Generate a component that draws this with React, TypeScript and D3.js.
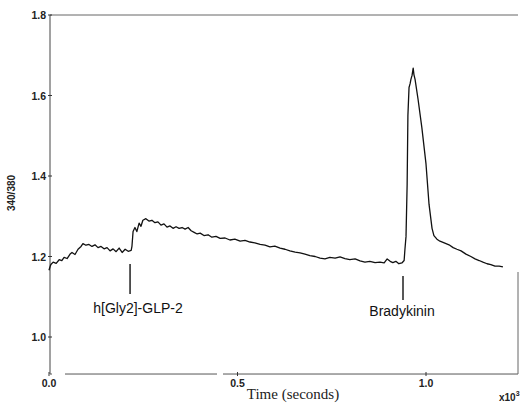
import React from "react";
import * as d3 from "d3";

// Time in units of 10^3 seconds
const times = [
  0.000, 0.003, 0.005, 0.011, 0.019, 0.027, 0.034, 0.040, 0.048, 0.056, 0.061, 0.069, 0.077, 0.085, 0.090, 0.098,
  0.106, 0.114, 0.122, 0.130, 0.138, 0.146, 0.154, 0.162, 0.170, 0.178, 0.186, 0.194, 0.202, 0.210, 0.218, 0.220,
  0.223, 0.228, 0.233, 0.239, 0.244, 0.249, 0.257, 0.265, 0.273, 0.281, 0.289, 0.297, 0.305, 0.313, 0.321, 0.329,
  0.337, 0.345, 0.353, 0.361, 0.369, 0.377, 0.385, 0.393, 0.401, 0.411, 0.422, 0.432, 0.443, 0.454, 0.467, 0.480,
  0.493, 0.507, 0.520, 0.533, 0.546, 0.560, 0.573, 0.586, 0.599, 0.613, 0.626, 0.639, 0.653, 0.666, 0.679, 0.692,
  0.706, 0.719, 0.732, 0.745, 0.759, 0.772, 0.785, 0.798, 0.812, 0.825, 0.838, 0.851, 0.865, 0.878, 0.889, 0.897,
  0.905, 0.912, 0.920, 0.928, 0.936, 0.942, 0.944, 0.947, 0.950, 0.952, 0.955, 0.958, 0.960, 0.963, 0.966, 0.968,
  0.971, 0.979, 0.989, 1.000, 1.008, 1.016, 1.021, 1.029, 1.037, 1.050, 1.061, 1.072, 1.082, 1.093, 1.106, 1.119,
  1.130, 1.141, 1.151, 1.162, 1.172, 1.183, 1.194, 1.204,
];
const ratios = [
  1.166, 1.175, 1.180, 1.186, 1.183, 1.192, 1.190, 1.198, 1.195, 1.206, 1.210, 1.205, 1.218, 1.225, 1.232, 1.228,
  1.230, 1.225, 1.229, 1.222, 1.225, 1.219, 1.222, 1.214, 1.219, 1.212, 1.221, 1.210, 1.218, 1.213, 1.215, 1.225,
  1.262, 1.272, 1.262, 1.283, 1.275, 1.290, 1.294, 1.288, 1.290, 1.284, 1.286, 1.278, 1.281, 1.273, 1.276, 1.270,
  1.274, 1.270, 1.272, 1.268, 1.272, 1.264, 1.260, 1.256, 1.258, 1.252, 1.254, 1.248, 1.250, 1.245, 1.246, 1.241,
  1.243, 1.238, 1.240, 1.236, 1.234, 1.230, 1.228, 1.224, 1.226, 1.221, 1.218, 1.214, 1.211, 1.209, 1.206, 1.202,
  1.200, 1.196, 1.194, 1.198, 1.196, 1.199, 1.195, 1.192, 1.194, 1.189, 1.186, 1.188, 1.185, 1.186, 1.184, 1.194,
  1.188, 1.185, 1.188, 1.182, 1.184, 1.190, 1.216, 1.250, 1.380, 1.550, 1.620, 1.630, 1.640, 1.650, 1.668, 1.652,
  1.640, 1.590, 1.520, 1.430, 1.330, 1.270, 1.252, 1.243, 1.238, 1.233, 1.229, 1.222, 1.218, 1.214, 1.206, 1.200,
  1.194, 1.190, 1.186, 1.182, 1.180, 1.176, 1.176, 1.174,
];

const yTicks = [1.0, 1.2, 1.4, 1.6, 1.8];
const xTicks = [0.0, 0.5, 1.0];

const annotations = [
  { label: "h[Gly2]-GLP-2", t: 0.215 },
  { label: "Bradykinin", t: 0.939 },
];

export default function App() {
  const W = 520;
  const H = 406;
  const x = d3.scaleLinear().domain([0, 1]).range([49, 426]);
  const y = d3.scaleLinear().domain([1.0, 1.8]).range([337, 15]);
  const left = 50;
  const bottom = y(0.908);
  const right = 518;
  const top = 15;

  const pts = times.map((t, i) => [t, ratios[i]] as [number, number]);
  const line = d3
    .line<[number, number]>()
    .x((d) => x(d[0]))
    .y((d) => y(d[1]));

  const tickFont = "'Liberation Sans', Arial, sans-serif";

  return (
    <svg
      width={W}
      height={H}
      style={{ position: "absolute", left: 0, top: 0, background: "#fff" }}
    >
      {/* frame */}
      <line x1={left} x2={right} y1={top} y2={top} stroke="#666" strokeWidth={1} />
      <line x1={left} x2={left} y1={top} y2={bottom} stroke="#444" strokeWidth={1} />
      <line x1={left} x2={52} y1={bottom} y2={bottom} stroke="#555" strokeWidth={1} />
      <line x1={65} x2={217} y1={bottom} y2={bottom} stroke="#555" strokeWidth={1} />
      <line x1={223} x2={right} y1={bottom} y2={bottom} stroke="#555" strokeWidth={1} />
      <line x1={right} x2={right} y1={272} y2={bottom} stroke="#666" strokeWidth={1} />

      {/* y ticks */}
      {yTicks.map((v) => (
        <g key={"y" + v}>
          <line x1={left - 2} x2={left + 2} y1={y(v)} y2={y(v)} stroke="#333" />
          <text
            x={left - 4}
            y={y(v) + 4}
            textAnchor="end"
            fontFamily={tickFont}
            fontWeight="bold"
            fontSize={10.5}
            fill="#222"
          >
            {v.toFixed(1)}
          </text>
        </g>
      ))}

      {/* x ticks */}
      {xTicks.map((v) => (
        <g key={"x" + v}>
          <line x1={x(v)} x2={x(v)} y1={bottom - 2} y2={bottom + 2} stroke="#333" />
          <text
            x={x(v)}
            y={bottom + 13}
            textAnchor="middle"
            fontFamily={tickFont}
            fontWeight="bold"
            fontSize={10.5}
            fill="#222"
          >
            {v.toFixed(1)}
          </text>
        </g>
      ))}

      {/* axis titles */}
      <text
        transform={`translate(15,193) rotate(-90)`}
        textAnchor="middle"
        fontFamily={tickFont}
        fontWeight="bold"
        fontSize={10}
        fill="#222"
      >
        340/380
      </text>
      <text
        x={293}
        y={399}
        textAnchor="middle"
        fontFamily="'Liberation Serif', 'Times New Roman', serif"
        fontSize={15}
        fill="#222"
      >
        Time (seconds)
      </text>
      <text x={499} y={401} fontFamily={tickFont} fontWeight="bold" fontSize={10} fill="#222">
        x10
        <tspan dy={-5} fontSize={7}>
          3
        </tspan>
      </text>

      {/* trace */}
      <path d={line(pts) || ""} fill="none" stroke="#111" strokeWidth={1.3} strokeLinejoin="round" />

      {/* annotations */}
      {annotations.map((a, i) => {
        const px = x(a.t);
        const y1 = i === 0 ? 264 : 276;
        const y2 = i === 0 ? 294 : 300;
        const ty = i === 0 ? 313 : 316;
        const tx = i === 0 ? 138 : 402;
        return (
          <g key={a.label}>
            <line x1={px} x2={px} y1={y1} y2={y2} stroke="#111" strokeWidth={1.4} />
            <text
              x={tx}
              y={ty}
              textAnchor="middle"
              fontFamily={tickFont}
              fontSize={14}
              fill="#111"
            >
              {a.label}
            </text>
          </g>
        );
      })}
    </svg>
  );
}
